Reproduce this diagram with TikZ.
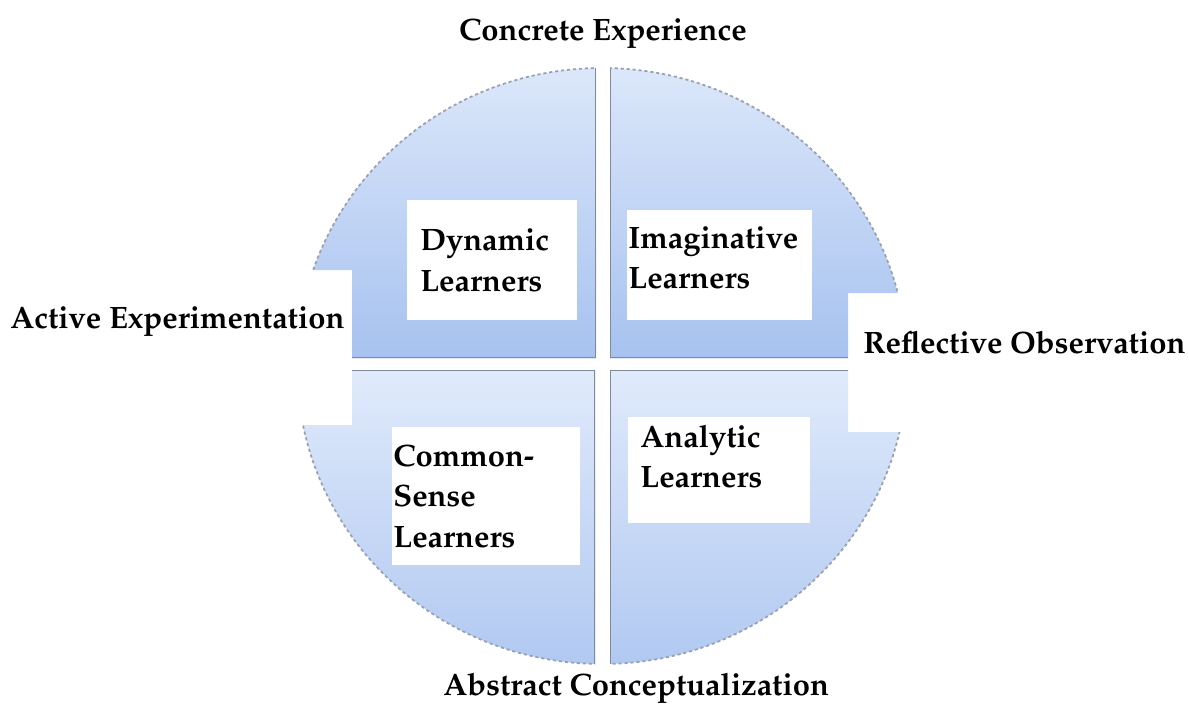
\documentclass[tikz,border=0pt]{standalone}
\usepackage[T1]{fontenc}
\renewcommand{\rmdefault}{ppl}
\definecolor{uplight}{HTML}{DDE8FA}
\definecolor{updark}{HTML}{A7C2F0}
\definecolor{lowlight}{HTML}{E0EAFB}
\definecolor{lowdark}{HTML}{B0C8F1}
\definecolor{seamgray}{HTML}{7F8A9C}
\tikzset{
  upper/.style={top color=uplight,bottom color=updark},
  lower/.style={top color=lowlight,bottom color=lowdark},
  rim/.style={draw=seamgray!80,line width=1pt,dash pattern=on 1.8pt off 1.6pt},
  seam/.style={draw=seamgray,line width=1.6pt},
  axislabel/.style={font=\fontsize{17.6}{22.8}\selectfont\bfseries,inner sep=0pt},
  learnerbox/.style={fill=white,anchor=north west,align=left,inner ysep=0pt,
    font=\fontsize{17.6}{22.8}\selectfont\bfseries},
}
\newcommand{\rimshape}{(602,366) ellipse [x radius=305, y radius=298]}

\begin{document}
\begin{tikzpicture}[x=0.02cm,y=-0.02cm]
  \useasboundingbox (0,0) rectangle (1189,707);

  % upper left quarter
  \begin{scope}
    \clip (250,40) -- (596,40) -- (596,358) -- (352,358) -- (352,270) -- (250,270) -- cycle;
    \begin{scope}
      \clip \rimshape;
      \shade[upper] (250,60) rectangle (620,358);
      \draw[seam] (596,40) -- (596,358) -- (352,358);
    \end{scope}
    \draw[rim] \rimshape;
  \end{scope}

  % upper right quarter
  \begin{scope}
    \clip (610,40) -- (950,40) -- (950,293) -- (848,293) -- (848,358) -- (610,358) -- cycle;
    \begin{scope}
      \clip \rimshape;
      \shade[upper] (590,60) rectangle (950,358);
      \draw[seam] (610,40) -- (610,358) -- (848,358);
    \end{scope}
    \draw[rim] \rimshape;
  \end{scope}

  % lower left quarter
  \begin{scope}
    \clip (352,370) -- (595,370) -- (595,690) -- (250,690) -- (250,425) -- (352,425) -- cycle;
    \begin{scope}
      \clip \rimshape;
      \shade[lower] (250,370) rectangle (620,670);
      \draw[seam] (352,370) -- (595,370) -- (595,690);
    \end{scope}
    \draw[rim] \rimshape;
  \end{scope}

  % lower right quarter
  \begin{scope}
    \clip (610,370) -- (848,370) -- (848,432) -- (950,432) -- (950,690) -- (610,690) -- cycle;
    \begin{scope}
      \clip \rimshape;
      \shade[lower] (590,370) rectangle (950,670);
      \draw[seam] (848,370) -- (610,370) -- (610,690);
    \end{scope}
    \draw[rim] \rimshape;
  \end{scope}

  % learner types
  \node[learnerbox,minimum width=3.4cm,minimum height=2.4cm,inner xsep=0.26cm,text width=2.88cm]
    (dynamic) at (407,200) {Dynamic\\Learners};
  \node[learnerbox,minimum width=3.7cm,minimum height=2.2cm,inner xsep=0.02cm,text width=3.66cm,
    text depth=1.12cm] (imaginative) at (627,210) {Imaginative\\Learners};
  \node[learnerbox,minimum width=3.76cm,minimum height=2.76cm,inner xsep=0.02cm,text width=3.72cm]
    (commonsense) at (392,427) {Common-\\Sense\\Learners};
  \node[learnerbox,minimum width=3.64cm,minimum height=2.12cm,inner xsep=0.24cm,text width=3.16cm,
    text depth=1.36cm] (analytic) at (628,417) {Analytic\\Learners};

  % the two axes
  \node[axislabel,anchor=base] (concrete) at (603,40) {Concrete Experience};
  \node[axislabel,anchor=base west] (active) at (10,328) {Active Experimentation};
  \node[axislabel,anchor=base west] (reflective) at (863,353) {Reflective Observation};
  \node[axislabel,anchor=base west] (abstract) at (443,695) {Abstract Conceptualization};
\end{tikzpicture}
\end{document}
